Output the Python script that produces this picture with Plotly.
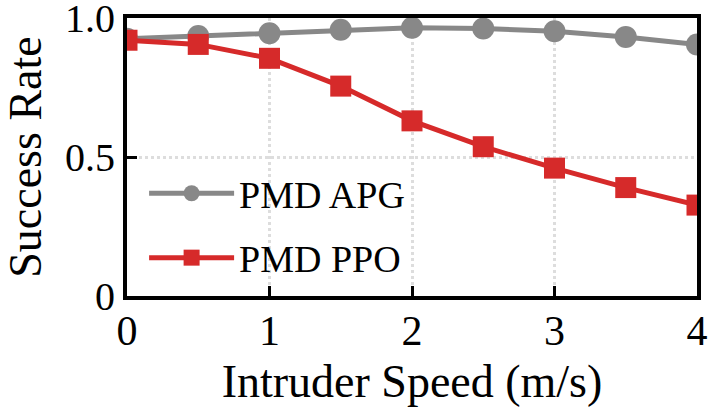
import plotly.graph_objects as go

speed = [0, 0.5, 1, 1.5, 2, 2.5, 3, 3.5, 4]
apg = [0.925, 0.935, 0.945, 0.958, 0.965, 0.962, 0.952, 0.932, 0.905]
ppo = [0.92, 0.905, 0.855, 0.755, 0.63, 0.537, 0.46, 0.39, 0.327]
ytick_vals = [0, 0.5, 1.0]
ytick_text = ["0", "0.5", "1.0"]
xtick_vals = [0, 1, 2, 3, 4]

FONT = "Liberation Serif"

fig = go.Figure()
fig.add_trace(go.Scatter(x=speed, y=apg, mode="lines+markers", name="PMD APG",
                         legendgroup="a",
                         line=dict(color="#888888", width=5),
                         marker=dict(symbol="circle", size=22, color="#888888")))
fig.add_trace(go.Scatter(x=speed, y=ppo, mode="lines+markers", name="PMD PPO",
                         legendgroup="b",
                         line=dict(color="#d62a2a", width=5),
                         marker=dict(symbol="square", size=21, color="#d62a2a")))

fig.update_layout(
    width=710, height=408,
    margin=dict(l=127, r=13, t=18, b=112),
    plot_bgcolor="white", paper_bgcolor="white",
    font=dict(family=FONT, color="black", size=40),
    showlegend=True,
    legend=dict(x=0.03, y=0.025, xanchor="left", yanchor="bottom",
                bgcolor="rgba(0,0,0,0)", font=dict(family=FONT, size=38),
                itemwidth=85, traceorder="grouped", tracegroupgap=12),
)
fig.update_xaxes(range=[0, 4], tickvals=xtick_vals, ticks="inside", ticklen=10, tickwidth=3,
                 tickcolor="black", showline=True, linewidth=4, linecolor="black", mirror=True,
                 showgrid=True, gridcolor="#dddddd", gridwidth=3, griddash="dot",
                 zeroline=False, tickfont=dict(size=42, family=FONT), ticklabeloverflow="allow",
                 automargin=False, ticklabelstandoff=-5,
                 title=dict(text="Intruder Speed (m/s)", font=dict(size=46, family=FONT), standoff=12))
fig.update_yaxes(range=[0, 1], tickvals=ytick_vals, ticktext=ytick_text, ticks="inside",
                 ticklen=10, tickwidth=3, tickcolor="black", showline=True, linewidth=4,
                 linecolor="black", mirror=True, ticklabeloverflow="allow", automargin=False,
                 showgrid=True, gridcolor="#dddddd", gridwidth=3, griddash="dot",
                 zeroline=False, tickfont=dict(size=40, family=FONT),
                 title=dict(text="Success Rate", font=dict(size=46, family=FONT), standoff=12))

fig.write_html("out.html")
